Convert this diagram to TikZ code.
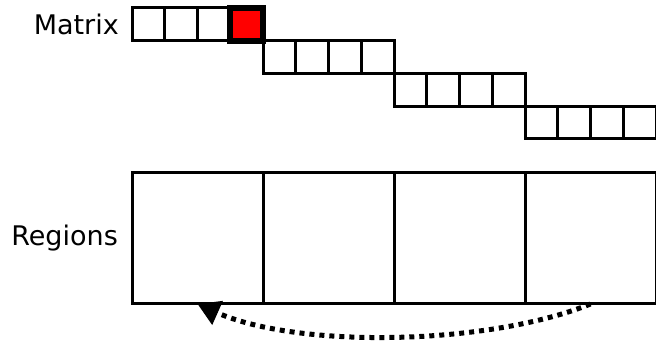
\documentclass[tikz,border=0pt]{standalone}
\usepackage{fontspec}
\setmainfont{DejaVu Sans}
\usetikzlibrary{arrows.meta, positioning}

\begin{document}
\begin{tikzpicture}[
  x=1pt, y=1pt,
  every node/.style={font=\fontsize{27}{30}\selectfont},
  cell/.style={rectangle, draw, line width=3pt, minimum size=32.75pt,
               inner sep=0pt},
  hot/.style={cell, fill=red, line width=6pt},
  region/.style={rectangle, draw, line width=3pt, minimum width=131pt,
                 minimum height=131pt, inner sep=0pt},
  label/.style={inner sep=0pt},
  swap/.style={-{Triangle[length=22pt, width=25pt]}, line width=5pt,
               dash pattern=on 5pt off 5pt},
]
\useasboundingbox (0,0) rectangle (656,344);
% matrix cells, one row of four per step
\foreach \r in {0,...,3}
  \foreach \k in {0,...,3} {
    \pgfmathtruncatemacro\n{4*\r+\k}
    \ifnum\n=3 \def\sty{hot}\else\def\sty{cell}\fi
    \node[\sty, outer sep=0pt] (c\r\k) at ({132+32.75*(\n+0.5)}, {344-8-32.75*(\r+0.5)}) {};
  }
% regions
\foreach \k in {1,...,4}
  \node[region, outer sep=0pt] (r\k) at ({132+131*(\k-0.5)}, {344-238.5}) {};
\node[label, left=13pt of c00] (mlab) {Matrix};
\node[label, left=14pt of r1]  (rlab) {Regions};
\draw[swap] (r4.south) to[out=-158, in=-24, looseness=0.72] (r1.south);
\end{tikzpicture}
\end{document}
